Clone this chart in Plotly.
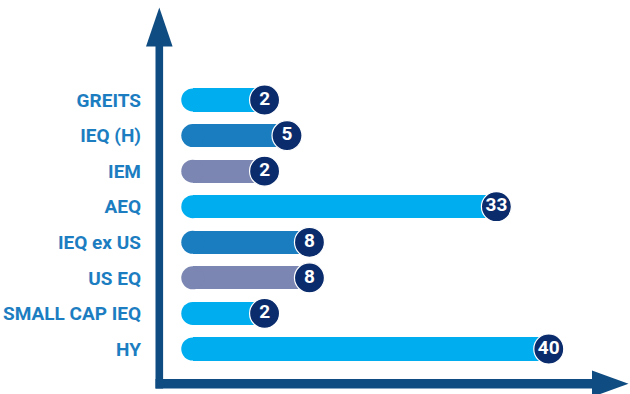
import plotly.graph_objects as go

# Holdings by asset class
categories = ["GREITS", "IEQ (H)", "IEM", "AEQ", "IEQ ex US", "US EQ", "SMALL CAP IEQ", "HY"]
values = [2, 5, 2, 33, 8, 8, 2, 40]
bar_colors = ["#00AEEF", "#1A7DC0", "#7B86B2", "#00AEEF", "#1A7DC0", "#7B86B2", "#00AEEF", "#00AEEF"]

W, H = 630, 394
ML, MR, MT, MB = 158, 0, 0, 0
BAR_START = -7.6          # axis value where the rounded bar body begins
BAR_THICK = 0.65          # bar thickness as a fraction of the category band
NAVY_AXIS = "#0F4C82"
NAVY_BADGE = "#0B2C6C"
LABEL_BLUE = "#1C7DC1"

fig = go.Figure()

# bar bodies, from the fixed start to each value
fig.add_trace(go.Bar(
    y=categories, x=[v - BAR_START for v in values], base=BAR_START,
    orientation="h", width=BAR_THICK,
    marker=dict(color=bar_colors, line=dict(width=0)),
    hoverinfo="skip", showlegend=False,
))

# rounded left caps
fig.add_trace(go.Scatter(
    y=categories, x=[BAR_START] * len(categories), mode="markers",
    marker=dict(size=23, color=bar_colors, line=dict(width=0)),
    hoverinfo="skip", showlegend=False,
))

# value badges at the end of each bar
fig.add_trace(go.Scatter(
    y=categories, x=values, mode="markers+text",
    text=[str(v) for v in values], textposition="middle center",
    textfont=dict(family="Roboto", size=19, color="white", weight="bold"),
    marker=dict(size=30, color=NAVY_BADGE, line=dict(width=1.2, color="white")),
    hoverinfo="skip", showlegend=False,
))


def px(x):
    return (x - ML) / (W - ML - MR)


def py(y):
    return 1 - (y - MT) / (H - MT - MB)


def path(points):
    return "M " + " L ".join(f"{px(x):.5f},{py(y):.5f}" for x, y in points) + " Z"


shapes = [
    # vertical axis shaft and arrowhead
    dict(type="path", path=path([(155.5, 46), (163.1, 46), (163.1, 388.5), (155.5, 388.5)])),
    dict(type="path", path=path([(159.3, 7.5), (172.6, 46.5), (146.0, 46.5)])),
    # horizontal axis shaft and arrowhead
    dict(type="path", path=path([(155.5, 379.0), (593, 379.0), (593, 388.5), (155.5, 388.5)])),
    dict(type="path", path=path([(628.5, 383.7), (592, 370.5), (592, 397.0)])),
]
for s in shapes:
    s.update(xref="paper", yref="paper", fillcolor=NAVY_AXIS, line=dict(width=0), layer="above")

fig.update_layout(
    width=W, height=H,
    margin=dict(l=ML, r=MR, t=MT, b=MB),
    paper_bgcolor="white", plot_bgcolor="white",
    shapes=shapes,
    bargap=0,
    xaxis=dict(range=[-12.25, 50.86], visible=False, fixedrange=True),
    yaxis=dict(
        type="category", categoryorder="array", categoryarray=categories,
        range=[8.265, -2.811], showgrid=False, zeroline=False, showline=False,
        ticks="", ticklabelstandoff=16,
        tickfont=dict(family="Roboto", size=19, color=LABEL_BLUE, weight="bold"),
        fixedrange=True,
    ),
)

fig.write_html("out.html")
